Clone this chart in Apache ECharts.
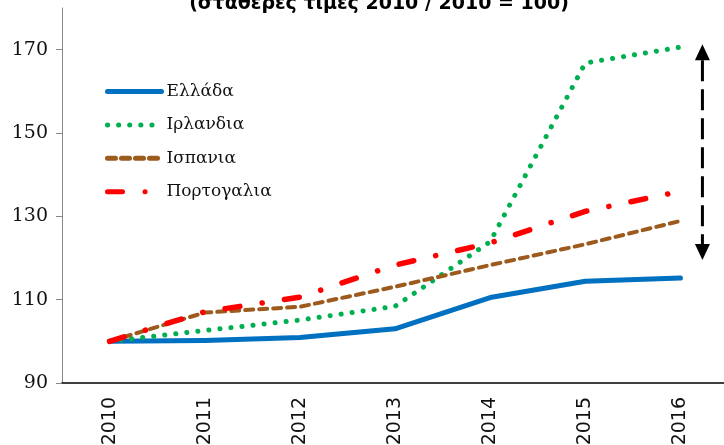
<!DOCTYPE html>
<html>
<head>
  <meta charset="utf-8">
  <title>Δείκτης</title>
  <script src="https://cdn.jsdelivr.net/npm/echarts@6/dist/echarts.min.js"></script>
  <style>
    html, body { margin: 0; padding: 0; background: #fff; }
  </style>
</head>
<body>
  <div id="main" style="width: 724px; height: 445px;"></div>

  <script>
    // years on the x axis
    const years = ['2010', '2011', '2012', '2013', '2014', '2015', '2016'];

    // index values (2010 = 100)
    const greece   = [100, 100.2, 100.9, 103.0, 110.5, 114.4, 115.2];
    const ireland  = [100, 102.6, 105.1, 108.4, 123.9, 166.8, 170.6];
    const spain    = [100, 106.9, 108.3, 113.1, 118.3, 123.3, 128.9];
    const portugal = [100, 107.1, 110.6, 118.3, 123.6, 131.2, 136.0];

    const yTicks = [90, 110, 130, 150, 170];

    // ends of the double arrow, in axis values
    const arrowTop = 171.3;
    const arrowBottom = 119.5;

    const chart = echarts.init(document.getElementById('main'));
    const option = {
      animation: false,
      title: {
        text: '(σταθερές τιμές 2010 / 2010 = 100)',
        left: 374,
        top: -10,
        textAlign: 'center',
        textStyle: { fontFamily: 'DejaVu Sans', fontWeight: 'bold', fontSize: 19, color: '#000' }
      },
      grid: { left: 62, right: -4, top: 8, bottom: 62, outerBoundsMode: 'none' },
      legend: {
        orient: 'vertical',
        left: 100,
        top: 78,
        itemWidth: 54,
        itemHeight: 14,
        itemGap: 16.4,
        itemStyle: { opacity: 0 },
        lineStyle: { width: 5 },
        textStyle: { fontFamily: 'DejaVu Serif', fontSize: 17, color: '#111' },
        data: ['Ελλάδα', 'Ιρλανδια', 'Ισπανια', 'Πορτογαλια']
      },
      xAxis: {
        type: 'category',
        data: years,
        boundaryGap: true,
        axisLine: { lineStyle: { color: '#000', width: 1.5 } },
        axisTick: { length: 8, lineStyle: { color: '#000' } },
        axisLabel: {
          rotate: 90,
          margin: 14,
          fontFamily: 'DejaVu Sans',
          fontSize: 19,
          color: '#111'
        }
      },
      yAxis: {
        type: 'value',
        min: 90,
        max: 180,
        interval: 20,
        splitLine: { show: false },
        axisLine: { show: true, lineStyle: { color: '#888' } },
        axisTick: { show: true, length: 6, lineStyle: { color: '#888' } },
        axisLabel: {
          showMaxLabel: false,
          margin: 14,
          fontFamily: 'DejaVu Serif',
          fontSize: 19,
          color: '#111',
          formatter: v => (yTicks.includes(v) ? String(v) : '')
        }
      },
      series: [
        {
          name: 'Ελλάδα',
          type: 'line',
          data: greece,
          symbol: 'none',
          z: 3,
          itemStyle: { color: '#0070C0' },
          lineStyle: { color: '#0070C0', width: 5, cap: 'round', join: 'round' }
        },
        {
          name: 'Ιρλανδια',
          type: 'line',
          data: ireland,
          symbol: 'none',
          z: 4,
          itemStyle: { color: '#00B050' },
          lineStyle: { color: '#00B050', width: 5, type: [0.1, 11], cap: 'round' }
        },
        {
          name: 'Ισπανια',
          type: 'line',
          data: spain,
          symbol: 'none',
          z: 5,
          itemStyle: { color: '#9C5A1C' },
          lineStyle: { color: '#9C5A1C', width: 4, type: [8, 6], cap: 'round' }
        },
        {
          name: 'Πορτογαλια',
          type: 'line',
          data: portugal,
          symbol: 'none',
          z: 6,
          itemStyle: { color: '#FF0000' },
          lineStyle: { color: '#FF0000', width: 5.5, type: [15, 22.5, 0.1, 22.5], cap: 'round' }
        }
      ]
    };
    chart.setOption(option);

    // double headed dashed arrow on the right side
    const ax = chart.convertToPixel({ xAxisIndex: 0 }, '2016') + 22;
    const ay1 = chart.convertToPixel({ yAxisIndex: 0 }, arrowTop);
    const ay2 = chart.convertToPixel({ yAxisIndex: 0 }, arrowBottom);
    const head = 16, half = 7.5;
    chart.setOption({
      graphic: [
        {
          type: 'line',
          shape: { x1: ax, y1: ay1 + head, x2: ax, y2: ay2 - head },
          style: { stroke: '#000', lineWidth: 3, lineDash: [21, 8] }
        },
        {
          type: 'polygon',
          shape: { points: [[ax, ay1], [ax - half, ay1 + head], [ax + half, ay1 + head]] },
          style: { fill: '#000' }
        },
        {
          type: 'polygon',
          shape: { points: [[ax, ay2], [ax - half, ay2 - head], [ax + half, ay2 - head]] },
          style: { fill: '#000' }
        }
      ]
    });
  </script>
</body>
</html>
